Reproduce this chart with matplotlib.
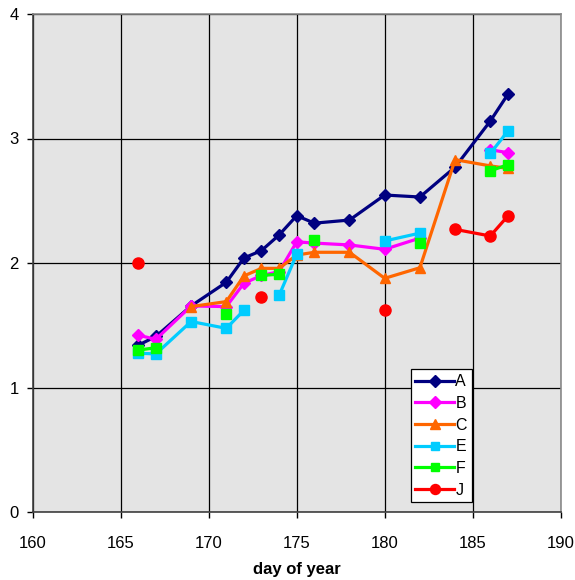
import numpy as np
import matplotlib
matplotlib.use("Agg")
import matplotlib.pyplot as plt

nan = np.nan
days = [166, 167, 169, 171, 172, 173, 174, 175, 176, 178, 180, 182, 184, 186, 187]
A = [1.34, 1.41, 1.655, 1.845, 2.04, 2.10, 2.225, 2.38, 2.32, 2.345, 2.546, 2.53, 2.77, 3.14, 3.355]
B = [1.42, 1.387, 1.655, 1.65, 1.837, 1.90, 1.93, 2.17, 2.16, 2.145, 2.11, 2.20, nan, 2.91, 2.886]
C = [nan, nan, 1.65, 1.69, 1.896, 1.957, 1.957, 2.064, 2.086, 2.086, 1.877, 1.962, 2.83, 2.78, 2.76]
E = [1.275, 1.27, 1.53, 1.475, 1.62, nan, 1.74, 2.07, nan, nan, 2.177, 2.24, nan, 2.88, 3.06]
F = [1.30, 1.32, nan, 1.59, nan, 1.90, 1.91, nan, 2.185, nan, nan, 2.16, nan, 2.74, 2.79]
J = [2.0, nan, nan, nan, nan, 1.73, nan, nan, nan, nan, 1.62, nan, 2.27, 2.217, 2.378]

series_names = ["A", "B", "C", "E", "F", "J"]
series_vals = [A, B, C, E, F, J]
colors = ["#000080", "#ff00ff", "#ff6600", "#00ccff", "#00ff00", "#ff0000"]
markers = ["D", "D", "^", "s", "s", "o"]
msizes = [6.5, 6.5, 7.5, 7, 7, 8]

xticks = [160, 165, 170, 175, 180, 185, 190]
yticks = [0, 1, 2, 3, 4]

plt.rcParams['font.family'] = ['Liberation Sans', 'DejaVu Sans']

W, H = 575, 580
fig = plt.figure(figsize=(W / 100, H / 100), dpi=100)
ax = fig.add_axes([32.7 / W, 1 - 512 / H, (560.7 - 32.7) / W, (512 - 14) / H])
ax.set_facecolor("#e4e4e4")

for name, vals, c, m, ms in zip(series_names, series_vals, colors, markers, msizes):
    ax.plot(days, vals, color=c, marker=m, markersize=ms, linewidth=2.3,
            label=name, zorder=3, clip_on=False)

ax.set_xlim(160, 190)
ax.set_ylim(0, 4)
ax.set_xticks(xticks)
ax.set_yticks(yticks)
ax.grid(True, color="black", linewidth=0.9, zorder=1)
ax.set_axisbelow(True)
ax.tick_params(axis="both", direction="out", length=4, width=1, labelsize=12, colors="black")
ax.tick_params(axis="x", pad=13)
ax.tick_params(axis="y", pad=6)
for s in ["left", "bottom"]:
    ax.spines[s].set_color("#404040")
    ax.spines[s].set_linewidth(1.2)
for s in ["top", "right"]:
    ax.spines[s].set_color("#8a8a8a")
    ax.spines[s].set_linewidth(1.2)

ax.set_xlabel("day of year", fontsize=12, fontweight="bold", labelpad=8)

leg = ax.legend(loc="upper left", bbox_to_anchor=(410.7 / W, 1 - 369.3 / H),
                bbox_transform=fig.transFigure, borderaxespad=0, fancybox=False,
                edgecolor="black", framealpha=1, fontsize=11.5, handlelength=2.4,
                handletextpad=0.1, labelspacing=0.42, borderpad=0.3,
                markerscale=0.9)
leg.get_frame().set_linewidth(0.9)

fig.savefig("out.png", dpi=100)
